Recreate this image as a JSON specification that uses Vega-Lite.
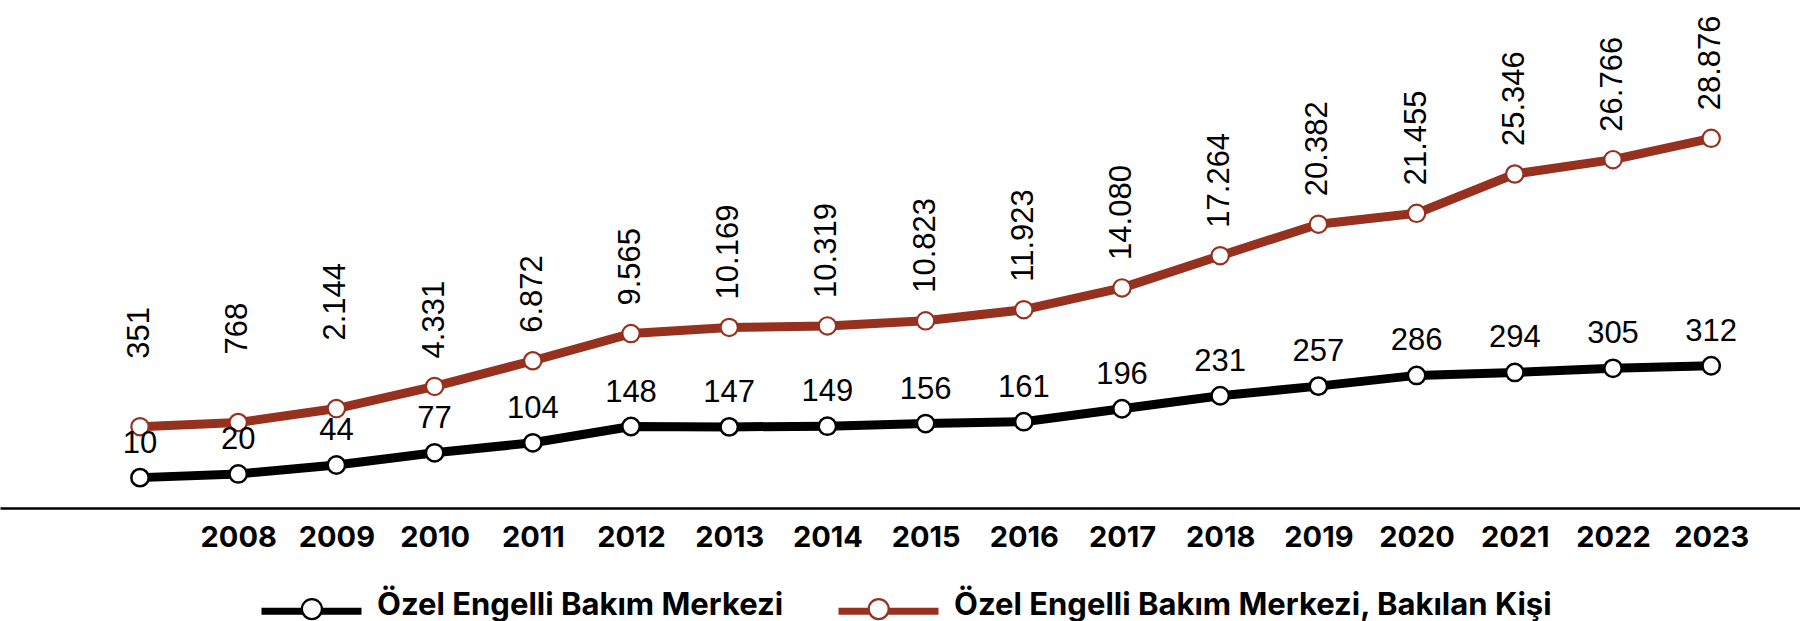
{
  "$schema": "https://vega.github.io/schema/vega-lite/v6.json",
  "width": 1800,
  "height": 508,
  "padding": 0,
  "background": "#ffffff",
  "config": {
    "view": {"stroke": null},
    "locale": {"number": {"decimal": ",", "thousands": ".", "grouping": [3], "currency": ["", " TL"]}}
  },
  "data": {
    "values": [
      {"year": 2007, "seri": "Özel Engelli Bakım Merkezi", "value": 10},
      {"year": 2008, "seri": "Özel Engelli Bakım Merkezi", "value": 20},
      {"year": 2009, "seri": "Özel Engelli Bakım Merkezi", "value": 44},
      {"year": 2010, "seri": "Özel Engelli Bakım Merkezi", "value": 77},
      {"year": 2011, "seri": "Özel Engelli Bakım Merkezi", "value": 104},
      {"year": 2012, "seri": "Özel Engelli Bakım Merkezi", "value": 148},
      {"year": 2013, "seri": "Özel Engelli Bakım Merkezi", "value": 147},
      {"year": 2014, "seri": "Özel Engelli Bakım Merkezi", "value": 149},
      {"year": 2015, "seri": "Özel Engelli Bakım Merkezi", "value": 156},
      {"year": 2016, "seri": "Özel Engelli Bakım Merkezi", "value": 161},
      {"year": 2017, "seri": "Özel Engelli Bakım Merkezi", "value": 196},
      {"year": 2018, "seri": "Özel Engelli Bakım Merkezi", "value": 231},
      {"year": 2019, "seri": "Özel Engelli Bakım Merkezi", "value": 257},
      {"year": 2020, "seri": "Özel Engelli Bakım Merkezi", "value": 286},
      {"year": 2021, "seri": "Özel Engelli Bakım Merkezi", "value": 294},
      {"year": 2022, "seri": "Özel Engelli Bakım Merkezi", "value": 305},
      {"year": 2023, "seri": "Özel Engelli Bakım Merkezi", "value": 312},
      {"year": 2007, "seri": "Özel Engelli Bakım Merkezi, Bakılan Kişi", "value": 351},
      {"year": 2008, "seri": "Özel Engelli Bakım Merkezi, Bakılan Kişi", "value": 768},
      {"year": 2009, "seri": "Özel Engelli Bakım Merkezi, Bakılan Kişi", "value": 2144},
      {"year": 2010, "seri": "Özel Engelli Bakım Merkezi, Bakılan Kişi", "value": 4331},
      {"year": 2011, "seri": "Özel Engelli Bakım Merkezi, Bakılan Kişi", "value": 6872},
      {"year": 2012, "seri": "Özel Engelli Bakım Merkezi, Bakılan Kişi", "value": 9565},
      {"year": 2013, "seri": "Özel Engelli Bakım Merkezi, Bakılan Kişi", "value": 10169},
      {"year": 2014, "seri": "Özel Engelli Bakım Merkezi, Bakılan Kişi", "value": 10319},
      {"year": 2015, "seri": "Özel Engelli Bakım Merkezi, Bakılan Kişi", "value": 10823},
      {"year": 2016, "seri": "Özel Engelli Bakım Merkezi, Bakılan Kişi", "value": 11923},
      {"year": 2017, "seri": "Özel Engelli Bakım Merkezi, Bakılan Kişi", "value": 14080},
      {"year": 2018, "seri": "Özel Engelli Bakım Merkezi, Bakılan Kişi", "value": 17264},
      {"year": 2019, "seri": "Özel Engelli Bakım Merkezi, Bakılan Kişi", "value": 20382},
      {"year": 2020, "seri": "Özel Engelli Bakım Merkezi, Bakılan Kişi", "value": 21455},
      {"year": 2021, "seri": "Özel Engelli Bakım Merkezi, Bakılan Kişi", "value": 25346},
      {"year": 2022, "seri": "Özel Engelli Bakım Merkezi, Bakılan Kişi", "value": 26766},
      {"year": 2023, "seri": "Özel Engelli Bakım Merkezi, Bakılan Kişi", "value": 28876}
    ]
  },
  "encoding": {
    "x": {
      "field": "year",
      "type": "quantitative",
      "scale": {"domain": [2005.5743, 2023.9043], "nice": false, "zero": false},
      "axis": {
        "title": null,
        "values": [2008, 2009, 2010, 2011, 2012, 2013, 2014, 2015, 2016, 2017, 2018, 2019, 2020, 2021, 2022, 2023],
        "format": "d",
        "domain": true,
        "domainColor": "#000000",
        "domainWidth": 2.5,
        "ticks": false,
        "grid": false,
        "labelFont": "Inter",
        "labelFontWeight": 700,
        "labelFontSize": 29,
        "labelColor": "#000000",
        "labelPadding": 15,
        "labelFlush": false,
        "labelOverlap": false
      }
    }
  },
  "layer": [
    {
      "transform": [{"filter": {"field": "seri", "equal": "Özel Engelli Bakım Merkezi"}}],
      "mark": {"type": "line", "strokeWidth": 9, "strokeJoin": "round", "strokeCap": "round"},
      "encoding": {
        "y": {"field": "value", "type": "quantitative", "scale": {"domain": [-72, 1299.4], "nice": false, "zero": false}, "axis": null},
        "stroke": {
          "field": "seri", "type": "nominal",
          "scale": {"domain": ["Özel Engelli Bakım Merkezi", "Özel Engelli Bakım Merkezi, Bakılan Kişi"], "range": ["#000000", "#96311f"]},
          "legend": {
            "orient": "none", "legendX": 258, "legendY": 561.5, "direction": "horizontal", "title": null,
            "symbolType": "M-1,-0.08L1,-0.08", "symbolSize": 10000, "symbolStrokeWidth": 7,
            "labelFont": "Inter", "labelFontSize": 31, "labelFontWeight": 700, "labelColor": "#000000", "labelBaseline": "alphabetic",
            "labelOffset": 12, "columnPadding": 40, "padding": 0, "labelLimit": 2000, "zindex": 0
          }
        }
      }
    },
    {
      "transform": [{"filter": {"field": "seri", "equal": "Özel Engelli Bakım Merkezi, Bakılan Kişi"}}],
      "mark": {"type": "line", "strokeWidth": 9, "strokeJoin": "round", "strokeCap": "round"},
      "encoding": {
        "y": {"field": "value", "type": "quantitative", "scale": {"domain": [-7691, 42557], "nice": false, "zero": false}, "axis": null},
        "stroke": {"field": "seri", "type": "nominal", "legend": null}
      }
    },
    {
      "transform": [{"filter": {"field": "seri", "equal": "Özel Engelli Bakım Merkezi"}}],
      "mark": {"type": "point", "shape": "circle", "filled": true, "fill": "#ffffff", "size": 300, "strokeWidth": 2.5, "opacity": 1},
      "encoding": {
        "y": {"field": "value", "type": "quantitative", "scale": {"domain": [-72, 1299.4], "nice": false, "zero": false}, "axis": null},
        "stroke": {
          "field": "seri", "type": "nominal",
          "legend": {
            "orient": "none", "legendX": 260.4, "legendY": 561.5, "direction": "horizontal", "title": null,
            "symbolType": "M-0.2,-0.08A0.2,0.2,0,1,1,0.2,-0.08A0.2,0.2,0,1,1,-0.2,-0.08Z", "symbolSize": 10000, "symbolStrokeWidth": 2.2,
            "symbolFillColor": "#ffffff", "symbolOpacity": 1,
            "labelFont": "Inter", "labelFontSize": 31, "labelFontWeight": 700, "labelColor": "#000000", "labelOpacity": 0, "labelBaseline": "alphabetic",
            "labelOffset": 12, "columnPadding": 44.8, "padding": 0, "labelLimit": 2000, "zindex": 1
          }
        }
      }
    },
    {
      "transform": [{"filter": {"field": "seri", "equal": "Özel Engelli Bakım Merkezi, Bakılan Kişi"}}],
      "mark": {"type": "point", "shape": "circle", "filled": true, "fill": "#ffffff", "size": 300, "strokeWidth": 2.2, "opacity": 1},
      "encoding": {
        "y": {"field": "value", "type": "quantitative", "scale": {"domain": [-7691, 42557], "nice": false, "zero": false}, "axis": null},
        "stroke": {"field": "seri", "type": "nominal", "legend": null}
      }
    },
    {
      "transform": [{"filter": {"field": "seri", "equal": "Özel Engelli Bakım Merkezi"}}],
      "mark": {"type": "text", "font": "Liberation Sans", "fontSize": 31, "color": "#000000", "align": "center", "baseline": "alphabetic", "dy": -25},
      "encoding": {
        "y": {"field": "value", "type": "quantitative", "scale": {"domain": [-72, 1299.4], "nice": false, "zero": false}, "axis": null},
        "text": {"field": "value", "type": "quantitative", "format": ","}
      }
    },
    {
      "transform": [{"filter": {"field": "seri", "equal": "Özel Engelli Bakım Merkezi, Bakılan Kişi"}}, {"filter": "datum.year >= 2010"}],
      "mark": {"type": "text", "font": "Liberation Sans", "fontSize": 31, "color": "#000000", "align": "left", "baseline": "middle", "angle": 270, "dx": 28},
      "encoding": {
        "y": {"field": "value", "type": "quantitative", "scale": {"domain": [-7691, 42557], "nice": false, "zero": false}, "axis": null},
        "text": {"field": "value", "type": "quantitative", "format": ","}
      }
    },
    {
      "transform": [{"filter": {"field": "seri", "equal": "Özel Engelli Bakım Merkezi, Bakılan Kişi"}}, {"filter": "datum.year < 2010"}],
      "mark": {"type": "text", "font": "Liberation Sans", "fontSize": 31, "color": "#000000", "align": "left", "baseline": "middle", "angle": 270, "dx": 68},
      "encoding": {
        "y": {"field": "value", "type": "quantitative", "scale": {"domain": [-7691, 42557], "nice": false, "zero": false}, "axis": null},
        "text": {"field": "value", "type": "quantitative", "format": ","}
      }
    }
  ],
  "resolve": {"scale": {"y": "independent"}, "legend": {"stroke": "independent"}}
}
